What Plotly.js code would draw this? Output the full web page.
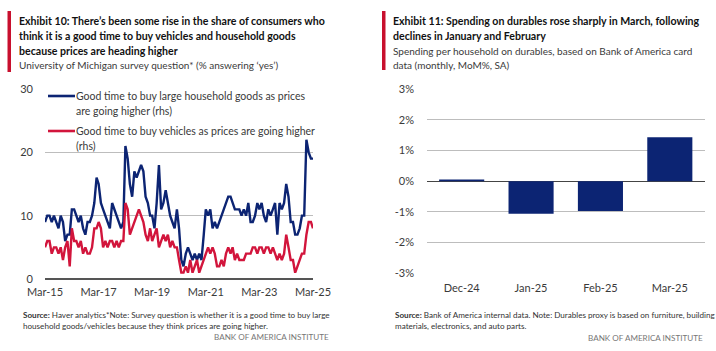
<!DOCTYPE html>
<html><head><meta charset="utf-8">
<script src="https://cdn.plot.ly/plotly-3.0.1.min.js"></script>
<style>html,body{margin:0;padding:0;background:#fff;}#chart{width:716px;height:351px;}</style>
</head><body><div id="chart"></div>
<script>
// ---------- Data: Exhibit 10 (monthly, Mar-15 .. Mar-25) ----------
const seriesStart = {year: 2015, month: 3};
const householdGoods = [
  9,10,10,9,10,9,8,10,9,6,
  7,7,11,11,10,9,10,8,7,9,
  9,10,12,16,15,12,11,10,9,8,
  12,11,10,9,8,9,21,19,15,13,
  17,16,17,18,17,13,12,10,10,8,
  12,18,11,12,14,12,10,9,8,11,
  8,3,2,4,5,4,3,4,3,4,
  3,7,11,10,11,8,9,8,9,10,
  11,12,13,13,12,11,11,11,10,11,
  10,12,9,9,10,12,11,12,10,9,
  11,10,11,12,7,12,11,12,15,13,
  9,9,7,7,8,10,10,22,20,19,19
];
const vehicles = [
  5,6,6,4,5,5,4,5,3,5,
  6,2,8,6,6,5,6,4,5,4,
  4,5,8,8,9,8,5,6,5,6,
  6,5,6,5,6,6,12,11,7,8,
  9,10,11,10,9,7,6,8,6,7,
  8,5,6,7,6,7,5,6,5,5,
  3,1,1,2,1,3,1,2,3,1,
  2,3,4,5,4,5,4,2,2,3,
  2,4,5,4,5,3,4,3,3,3,
  4,4,4,5,5,4,5,5,4,5,
  5,4,5,4,3,4,3,4,7,5,
  3,3,1,2,3,4,4,7,9,9,8
];
const leftTickDates = ['2015-03-01','2017-03-01','2019-03-01','2021-03-01','2023-03-01','2025-03-01'];
const leftTickLabels = ['Mar-15','Mar-17','Mar-19','Mar-21','Mar-23','Mar-25'];
const leftYTicks = [0,10,20,30];

// ---------- Data: Exhibit 11 ----------
const spendMonths = ['Dec-24','Jan-25','Feb-25','Mar-25'];
const spendMoM = [0.06,-1.06,-0.97,1.44];
const rightYTicks = [-3,-2,-1,0,1,2,3];
const rightYLabels = ['-3%','-2%','-1%','0%','1%','2%','3%'];

// ---------- Build month dates ----------
function monthDates(start, n){
  const out=[];
  for(let i=0;i<n;i++){
    const idx=(start.month-1)+i;
    const y=start.year+Math.floor(idx/12), m=(idx%12)+1;
    out.push(y+'-'+String(m).padStart(2,'0')+'-01');
  }
  return out;
}
const dates = monthDates(seriesStart, householdGoods.length);

const W=716,H=351;
const px=x=>x/W, py=y=>1-y/H;
const NAVY='#0c2473', RED='#d2153c';
const FONT='Lato, "Liberation Sans", sans-serif';
const TXT='#3a3a3a';

const traces=[
  {x:dates,y:householdGoods,type:'scatter',mode:'lines',line:{color:NAVY,width:2.4},xaxis:'x',yaxis:'y',showlegend:false,name:'Good time to buy large household goods as prices are going higher (rhs)'},
  {x:dates,y:vehicles,type:'scatter',mode:'lines',line:{color:RED,width:2.4},xaxis:'x',yaxis:'y',showlegend:false,name:'Good time to buy vehicles as prices are going higher (rhs)'},
  {x:spendMonths,y:spendMoM,type:'bar',marker:{color:NAVY},xaxis:'x2',yaxis:'y2',showlegend:false,width:0.65}
];

function ann(text,x,y,opts){
  return Object.assign({text:text,x:px(x),y:py(y),xref:'paper',yref:'paper',showarrow:false,xanchor:'left',yanchor:'middle',align:'left',font:{family:FONT,size:12,color:TXT}},opts||{});
}
const TS=10.6, SS=10.0, LS=10.5, FS=8.1;
const annotations=[
  // Left titles
  ann('<b>Exhibit 10: There\u2019s been some rise in the share of consumers who</b>',17,21,{font:{family:FONT,size:TS,color:'#111'}}),
  ann('<b>think it is a good time to buy vehicles and household goods</b>',17,35.5,{font:{family:FONT,size:TS,color:'#111'}}),
  ann('<b>because prices are heading higher</b>',17,50.5,{font:{family:FONT,size:TS,color:'#111'}}),
  ann('University of Michigan survey question* (% answering \u2018yes\u2019)',17,65,{font:{family:FONT,size:SS,color:TXT}}),
  // Legend
  ann('Good time to buy large household goods as prices',74,96,{font:{family:FONT,size:LS,color:TXT}}),
  ann('are going higher (rhs)',74,111,{font:{family:FONT,size:LS,color:TXT}}),
  ann('Good time to buy vehicles as prices are going higher',74,131,{font:{family:FONT,size:LS,color:TXT}}),
  ann('(rhs)',74,146,{font:{family:FONT,size:LS,color:TXT}}),
  // Left source
  ann('<b>Source:</b> Haver analytics*Note: Survey question is whether it is a good time to buy large',21,315,{font:{family:FONT,size:FS,color:'#333'}}),
  ann('household goods/vehicles because they think prices are going higher.',21,325.5,{font:{family:FONT,size:FS,color:'#333'}}),
  ann('BANK OF AMERICA INSTITUTE',331,337,{xanchor:'right',font:{family:FONT,size:FS,color:'#777'}}),
  // Right titles
  ann('<b>Exhibit 11: Spending on durables rose sharply in March, following</b>',391,21,{font:{family:FONT,size:TS,color:'#111'}}),
  ann('<b>declines in January and February</b>',391,35.5,{font:{family:FONT,size:TS,color:'#111'}}),
  ann('Spending per household on durables, based on Bank of America card',391,50.5,{font:{family:FONT,size:SS,color:TXT}}),
  ann('data (monthly, MoM%, SA)',391,65,{font:{family:FONT,size:SS,color:TXT}}),
  // Right source
  ann('<b>Source:</b> Bank of America internal data. Note: Durables proxy is based on furniture, building',393,315,{font:{family:FONT,size:FS,color:'#333'}}),
  ann('materials, electronics, and auto parts.',393,325.5,{font:{family:FONT,size:FS,color:'#333'}}),
  ann('BANK OF AMERICA INSTITUTE',705,338,{xanchor:'right',font:{family:FONT,size:FS,color:'#777'}})
];

const shapes=[
  {type:'rect',xref:'paper',yref:'paper',x0:px(7.5),x1:px(11),y0:py(72),y1:py(11),fillcolor:'#c8102e',line:{width:0}},
  {type:'rect',xref:'paper',yref:'paper',x0:px(382),x1:px(385.5),y0:py(70),y1:py(11),fillcolor:'#c8102e',line:{width:0}},
  {type:'line',xref:'paper',yref:'paper',x0:px(48),x1:px(75),y0:py(96),y1:py(96),line:{color:NAVY,width:2.6}},
  {type:'line',xref:'paper',yref:'paper',x0:px(48),x1:px(75),y0:py(131),y1:py(131),line:{color:RED,width:2.6}}
];

const TK=11;
const layout={
  width:W,height:H,margin:{l:0,r:0,t:0,b:0},paper_bgcolor:'#fff',plot_bgcolor:'#fff',
  font:{family:FONT,size:12,color:TXT},
  xaxis:{domain:[px(45),px(313)],type:'date',range:['2015-03-01','2025-03-01'],tickvals:leftTickDates,ticktext:leftTickLabels,
    showgrid:false,zeroline:false,showline:false,ticks:'',ticklabelstandoff:5,tickfont:{family:FONT,size:TK,color:TXT},anchor:'y'},
  yaxis:{domain:[py(279),py(89)],range:[0,30],tickvals:leftYTicks,showgrid:true,gridcolor:'#bdbdbd',gridwidth:1,
    zeroline:true,zerolinecolor:'#555',zerolinewidth:1.3,showline:false,ticks:'',ticklabelstandoff:11,tickfont:{family:FONT,size:TK,color:TXT},anchor:'x'},
  xaxis2:{domain:[px(427),px(704.5)],type:'category',showgrid:false,zeroline:false,showline:false,ticks:'',ticklabelstandoff:7,
    tickfont:{family:FONT,size:TK,color:TXT},anchor:'y2'},
  yaxis2:{domain:[py(273.3),py(89.3)],range:[-3,3],tickvals:rightYTicks,ticktext:rightYLabels,showgrid:true,gridcolor:'#bdbdbd',gridwidth:1,
    zeroline:true,zerolinecolor:'#444',zerolinewidth:1.3,showline:false,ticks:'',ticklabelstandoff:12,tickfont:{family:FONT,size:TK,color:TXT},anchor:'x2'},
  annotations:annotations,shapes:shapes,showlegend:false
};

Plotly.newPlot('chart',traces,layout,{staticPlot:true,displayModeBar:false});
</script>
</body></html>
